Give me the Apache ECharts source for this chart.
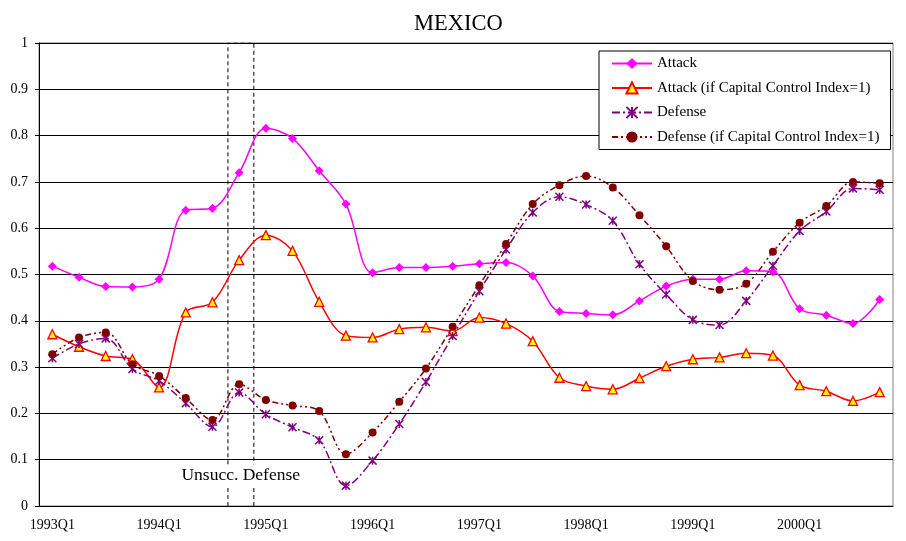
<!DOCTYPE html>
<html>
<head>
<meta charset="utf-8">
<script src="https://cdn.jsdelivr.net/npm/echarts@6/dist/echarts.min.js"></script>
<style>html,body{margin:0;padding:0;background:#fff;}#c{width:906px;height:541px;}</style>
</head>
<body>
<div id="c"></div>
<script>
const categories = [];
for (let y = 1993; y <= 2000; y++) for (let q = 1; q <= 4; q++) categories.push(y + 'Q' + q);

const attack = [0.518,0.494,0.474,0.473,0.490,0.639,0.643,0.720,0.816,0.794,0.724,0.652,0.504,0.515,0.515,0.518,0.523,0.526,0.497,0.420,0.416,0.413,0.443,0.475,0.490,0.490,0.508,0.506,0.426,0.412,0.394,0.446];
const attackCCI = [0.371,0.344,0.324,0.317,0.256,0.418,0.440,0.531,0.585,0.551,0.441,0.368,0.364,0.382,0.386,0.378,0.407,0.394,0.356,0.277,0.259,0.252,0.276,0.302,0.317,0.321,0.330,0.325,0.261,0.248,0.227,0.246];
const defense = [0.319,0.350,0.362,0.296,0.270,0.222,0.171,0.245,0.198,0.170,0.142,0.044,0.098,0.177,0.268,0.367,0.464,0.554,0.634,0.668,0.651,0.616,0.522,0.457,0.402,0.391,0.443,0.519,0.594,0.636,0.686,0.683];
const defenseCCI = [0.328,0.364,0.375,0.306,0.281,0.233,0.186,0.263,0.229,0.217,0.205,0.112,0.159,0.225,0.297,0.387,0.477,0.566,0.652,0.693,0.713,0.688,0.628,0.561,0.486,0.467,0.480,0.549,0.612,0.648,0.700,0.697];
const seriesNames = ['Attack','Attack (if Capital Control Index=1)','Defense','Defense (if Capital Control Index=1)'];
const yTicks = [0,0.1,0.2,0.3,0.4,0.5,0.6,0.7,0.8,0.9,1];
const boxX = [7.08, 8.05];
const gapY = [0.045, 0.09];
const annotPos = [7.56, 0.066];
const annotText = 'Unsucc. Defense';

const FONT = 'Liberation Serif';
const chart = echarts.init(document.getElementById('c'), null, {renderer:'canvas'});
const asterisk = 'path://M0,0L10,10M10,0L0,10M5,0L5,10';
const boxStyle = {color: '#000', width: 1, type: [4,3]};
function boxSeries(data) {
  return {type: 'line', xAxisIndex: 1, symbol: 'none', silent: true, data: data, lineStyle: boxStyle, z: 3};
}

const option = {
  animation: false,
  backgroundColor: '#fff',
  textStyle: {fontFamily: FONT},
  title: {text: 'MEXICO', left: 409, top: 8, textStyle: {fontFamily: FONT, fontSize: 22.5, fontWeight: 'normal', color: '#000'}},
  grid: {left: 39, right: 13, top: 43, bottom: 35, show: true, borderColor: '#808080', borderWidth: 1},
  legend: {
    orient: 'vertical', left: 599, top: 51, data: seriesNames,
    borderColor: '#000', borderWidth: 1, backgroundColor: '#fff',
    padding: [5, 11, 5, 12], itemWidth: 40, itemHeight: 14, itemGap: 9.5,
    textStyle: {fontFamily: FONT, fontSize: 15, color: '#000'}
  },
  xAxis: [{
    type: 'category', data: categories, boundaryGap: true,
    axisLine: {lineStyle: {color: '#000', width: 1}},
    axisTick: {interval: 0, length: 4, lineStyle: {color: '#000'}},
    axisLabel: {interval: 3, margin: 12, fontFamily: FONT, fontSize: 14, color: '#000'},
    splitLine: {show: false}
  }, {
    type: 'value', min: 0, max: 32, show: false
  }],
  yAxis: {
    type: 'value', min: 0, max: 1, interval: 0.1,
    axisLine: {show: true, lineStyle: {color: '#000', width: 1}},
    axisTick: {show: true, length: 4, lineStyle: {color: '#000'}},
    axisLabel: {margin: 11, fontFamily: FONT, fontSize: 14, color: '#000',
      formatter: v => String(Math.round(v*10)/10)},
    splitLine: {lineStyle: {color: '#000', width: 1}}
  },
  series: [
    {name: seriesNames[0], type: 'line', data: attack, smooth: 0.35, color: '#FF00FF',
     lineStyle: {color: '#FF00FF', width: 1.5}, symbol: 'diamond', symbolSize: 9,
     itemStyle: {color: '#FF00FF'}, z: 4},
    {name: seriesNames[1], type: 'line', data: attackCCI, smooth: 0.35, color: '#FF0000',
     lineStyle: {color: '#FF0000', width: 1.5}, symbol: 'triangle', symbolSize: 9,
     itemStyle: {color: '#FFFF00', borderColor: '#FF0000', borderWidth: 1.3}, z: 4},
    {name: seriesNames[2], type: 'line', data: defense, smooth: 0.35, color: '#800080',
     lineStyle: {color: '#800080', width: 1.5, type: [8,3,2,3]}, symbol: asterisk, symbolSize: 8,
     itemStyle: {color: '#800080', borderColor: '#800080', borderWidth: 1.5}, z: 4},
    {name: seriesNames[3], type: 'line', data: defenseCCI, smooth: 0.35, color: '#800000',
     lineStyle: {color: '#800000', width: 1.5, type: [6,3,2,3,2,3]}, symbol: 'circle', symbolSize: 8,
     itemStyle: {color: '#800000'}, z: 4},
    boxSeries([[boxX[0],0],[boxX[0],gapY[0]]]),
    boxSeries([[boxX[1],0],[boxX[1],gapY[0]]]),
    boxSeries([[boxX[0],gapY[1]],[boxX[0],1],[boxX[1],1],[boxX[1],gapY[1]]]),
    {name: 'annot', type: 'scatter', xAxisIndex: 1, symbolSize: 0, silent: true, z: 5,
     data: [annotPos], itemStyle: {opacity: 1},
     label: {show: true, position: 'inside', formatter: annotText, fontFamily: FONT, fontSize: 17.5, color: '#000', opacity: 1}}
  ]
};
chart.setOption(option);
</script>
</body>
</html>
